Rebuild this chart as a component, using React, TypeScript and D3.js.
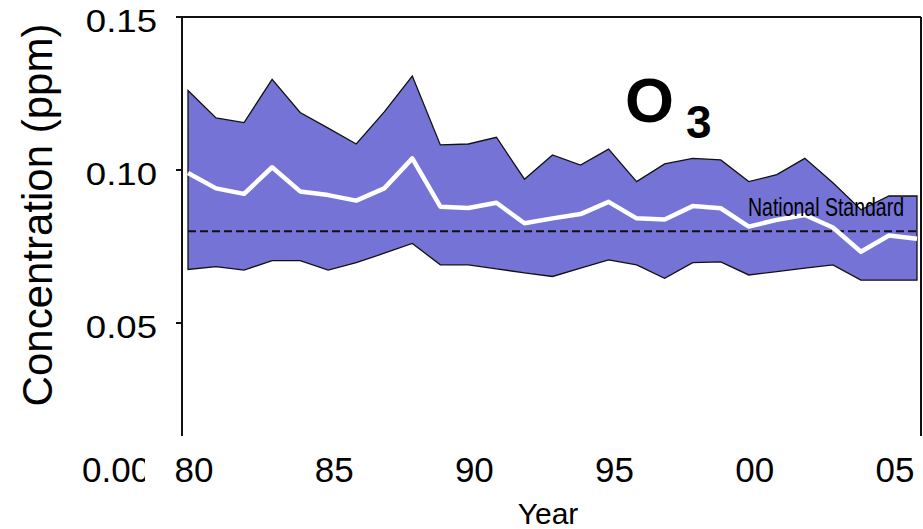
import React from "react";
import * as d3 from "d3";

const years = [1980, 1981, 1982, 1983, 1984, 1985, 1986, 1987, 1988, 1989, 1990, 1991, 1992, 1993, 1994, 1995, 1996, 1997, 1998, 1999, 2000, 2001, 2002, 2003, 2004, 2005, 2006];
const upper = [0.126, 0.117, 0.1155, 0.1296, 0.1188, 0.1137, 0.1085, 0.119, 0.1307, 0.1082, 0.1085, 0.1107, 0.097, 0.1049, 0.1016, 0.1068, 0.0962, 0.102, 0.1038, 0.1033, 0.0962, 0.0985, 0.1038, 0.0958, 0.087, 0.0915, 0.0915];
const median = [0.099, 0.094, 0.0922, 0.1009, 0.093, 0.0918, 0.09, 0.094, 0.1038, 0.088, 0.0876, 0.0893, 0.0826, 0.0842, 0.0856, 0.0896, 0.0842, 0.0838, 0.0882, 0.0875, 0.0815, 0.0837, 0.0853, 0.0812, 0.0733, 0.0786, 0.0775];
const lower = [0.0675, 0.0684, 0.0673, 0.0704, 0.0704, 0.0673, 0.0697, 0.0728, 0.076, 0.069, 0.069, 0.0677, 0.0664, 0.0652, 0.0679, 0.0706, 0.069, 0.0646, 0.0697, 0.07, 0.0657, 0.0668, 0.0679, 0.069, 0.064, 0.064, 0.064];
const nationalStandard = 0.08;
const yTicks = [0.15, 0.1, 0.05];
const xTickYears = [1980, 1985, 1990, 1995, 2000, 2005];
const xTickLabels = ["80", "85", "90", "95", "00", "05"];

const W = 923;
const H = 529;
const FONT = "'Liberation Sans', Arial, sans-serif";

export default function App() {
  const x = d3.scaleLinear().domain([1980, 2006]).range([188, 917]);
  const y = d3.scaleLinear().domain([0, 0.15]).range([476, 17]);

  const rows = years.map((yr, i) => ({ yr, hi: upper[i], mid: median[i], lo: lower[i] }));

  const area = d3
    .area<any>()
    .x((d) => x(d.yr))
    .y0((d) => y(d.lo))
    .y1((d) => y(d.hi));
  const line = d3
    .line<any>()
    .x((d) => x(d.yr))
    .y((d) => y(d.mid));

  const axisLeft = 182;
  const axisRight = 921;
  const top = y(0.15);
  const bottom = 436;

  return (
    <svg width={W} height={H} style={{ position: "absolute", left: 0, top: 0, background: "#fff" }}>
      <defs>
        <clipPath id="zeroClip">
          <rect x={0} y={440} width={145} height={60} />
        </clipPath>
      </defs>
      <path d={area(rows) + "Z"} fill="#7573D6" stroke="#111" strokeWidth={1.3} strokeLinejoin="miter" />
      <line
        x1={x(1980)}
        x2={x(2006)}
        y1={y(nationalStandard)}
        y2={y(nationalStandard)}
        stroke="#111"
        strokeWidth={2}
        strokeDasharray="8,4"
      />
      <path d={line(rows) || ""} fill="none" stroke="#fff" strokeWidth={4.5} strokeLinejoin="round" />

      {/* frame */}
      <line x1={axisLeft} x2={axisLeft} y1={top} y2={bottom} stroke="#111" strokeWidth={2} />
      <line x1={axisRight} x2={axisRight} y1={top} y2={bottom} stroke="#111" strokeWidth={2} />
      <line x1={axisLeft - 6} x2={axisRight} y1={top} y2={top} stroke="#111" strokeWidth={2} />
      {yTicks.map((t) => (
        <g key={t}>
          <line x1={axisLeft - 6} x2={axisLeft} y1={y(t)} y2={y(t)} stroke="#111" strokeWidth={2} />
          <text
            transform={`translate(157, ${y(t) + 15}) scale(1.18, 1)`}
            textAnchor="end"
            fontFamily={FONT}
            fontSize={31}
            fill="#000"
          >
            {t.toFixed(2)}
          </text>
        </g>
      ))}
      <text x={82} y={482} fontFamily={FONT} fontSize={35} fill="#000" clipPath="url(#zeroClip)">
        0.00
      </text>
      {xTickYears.map((yr, i) => (
        <text key={yr} x={x(yr) + 6} y={482} textAnchor="middle" fontFamily={FONT} fontSize={35} fill="#000">
          {xTickLabels[i]}
        </text>
      ))}
      <text x={548} y={524} textAnchor="middle" fontFamily={FONT} fontSize={30} fill="#000">
        Year
      </text>
      <text
        transform={`translate(52, 215) rotate(-90)`}
        textAnchor="middle"
        fontFamily={FONT}
        fontSize={42}
        fill="#000"
      >
        Concentration (ppm)
      </text>
      <text x={625} y={122} fontFamily={FONT} fontSize={63} fontWeight="bold" fill="#000">
        O
      </text>
      <text x={686} y={138} fontFamily={FONT} fontSize={46} fontWeight="bold" fill="#000">
        3
      </text>
      <text
        transform={`translate(748, 216) scale(0.78, 1)`}
        fontFamily={FONT}
        fontSize={25}
        fill="#000"
      >
        National Standard
      </text>
    </svg>
  );
}
